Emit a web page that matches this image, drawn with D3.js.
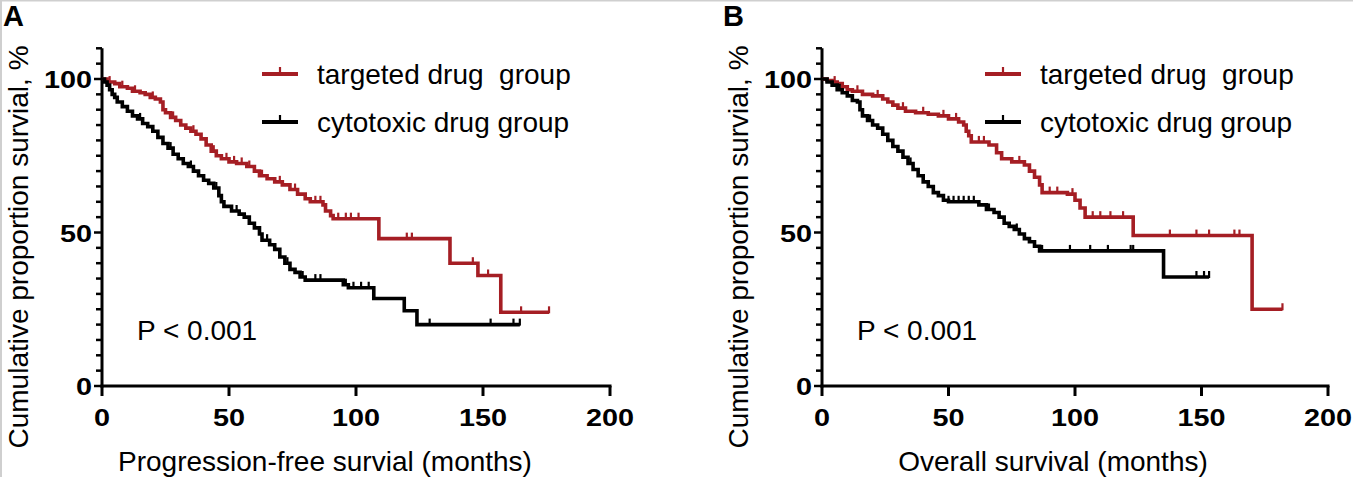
<!DOCTYPE html>
<html><head><meta charset="utf-8">
<script src="https://cdn.jsdelivr.net/npm/d3@7"></script>
<style>
html,body{margin:0;padding:0;background:#fff;}
svg text{font-family:"Liberation Sans",Arial,sans-serif;}
</style></head>
<body><svg id="chart" width="1353" height="477"></svg>
<script>
// ---------- data ----------
const xTicks = [0, 50, 100, 150, 200];
const yTicks = [0, 50, 100];
const seriesNames = ["targeted drug  group", "cytotoxic drug group"];
const panelTitles = ["A", "B"];
const xTitles = ["Progression-free survial (months)", "Overall survival (months)"];
const yTitle = "Cumulative proportion survial, %";
const pText = "P < 0.001";

// Panel A (PFS) – targeted: [month, survival %]
const pfsTargeted = [[0,100],[2,99],[5,98.5],[7,97.5],[10,97],[12,96],[15,95.5],[17,95],[19,94],[21,93.5],[23,92.5],[24,90],[25,89],[27,87.5],[29,86.5],[31,85],[33,84],[35,83],[37,82],[39,80.5],[41,78.5],[43,76.5],[45,75],[47,74],[50,73],[53,72.5],[57,71.5],[60,70],[62,68.5],[65,67.5],[68,66.5],[71,65.5],[74,64],[77,62.5],[80,61],[82,60],[87,59],[88,57],[90,55.5],[91,54.5],[109,48],[137,40],[148,36],[157,24],[176,24]];
const pfsTargetedCens = [3,8,13,20,28,36,44,49,52,55,58,63,70,76,84,86,93,96,98,101,120,122,146,152,165,176];
const pfsCytotoxic = [[0,100],[1,99],[2,98],[3,96.5],[4,95],[5,94],[6,92.5],[8,91],[10,89.5],[12,88],[14,87],[16,85.5],[18,84.5],[20,83],[22,81],[24,79],[26,77.5],[28,75.5],[30,74],[32,72.5],[34,71.5],[36,70],[38,68.5],[40,67],[42,66],[44,64.5],[46,62],[47,60],[48,58.5],[51,57],[54,56],[56,55],[58,53],[60,51.5],[62,49.5],[63,47.5],[66,46],[68,44.5],[70,42],[72,40],[74,38],[76,37],[78,35.5],[80,34.5],[95,33],[97,32],[107,28.5],[119,24.5],[124,20],[164.5,20]];
const pfsCytotoxicCens = [6,15,27,35,45,53,65,73,79,84,86,96,99,102,105,129,153,162,164.5];

// Panel B (OS)
const osTargeted = [[0,100],[2,99.5],[4,99],[6,98.5],[8,97.5],[10,96.5],[12,96],[16,95],[20,94.5],[24,93.5],[26,92.5],[28,91.5],[30,90.5],[33,89.5],[37,89],[42,88.5],[46,88],[50,87],[54,86],[56,85],[57,83],[58,81.5],[59,79.5],[66,78.5],[69,76],[71,74],[75,73],[80,72],[82,70],[84,68],[86,65.5],[87,63],[97,62.5],[100,60.5],[102,58],[104,55],[123,49],[170,25],[182,25]];
const osTargetedCens = [5,14,22,32,40,48,53,62,64,78,90,93,99,107,110,114,119,137.5,148,153,163,165,182];
const osCytotoxic = [[0,100],[2,99],[4,98],[6,96.5],[8,95.5],[10,94.5],[12,93],[14,92.5],[15,90],[16,88],[18,86.5],[20,85],[22,84],[24,82],[26,80],[28,78],[30,76.5],[32,74.5],[34,72.5],[36,70.5],[38,68.5],[40,66.5],[42,65],[44,63],[46,62],[48,60.5],[50,60],[62,59],[65,57.5],[68,56.5],[70,55],[72,53],[74,52],[76,51],[78,49.5],[80,48],[82,47],[84,45.5],[86,44],[135,35.5],[153,35.5]];
const osCytotoxicCens = [7,19,35,50,52,54,56,58,60,66,77,87,98,106,113,122,123,148,151,153];

const colors = ["#a51e24", "#000000"];

// ---------- drawing ----------
const svg = d3.select("#chart");
svg.append("line").attr("x1",0).attr("x2",1353).attr("y1",0.5).attr("y2",0.5).attr("stroke","#cfcfcf").attr("stroke-width",2);
svg.append("line").attr("x1",1).attr("x2",1).attr("y1",0).attr("y2",477).attr("stroke","#cfcfcf").attr("stroke-width",2);

function stepAt(data, t){
  let v = data[0][1];
  for (const d of data){ if (d[0] <= t) v = d[1]; else break; }
  return v;
}

const SX = 1.2; // horizontal stretch of bold tick labels

function panel(opt){
  const g = svg.append("g");
  const x = d3.scaleLinear().domain([0,200]).range([opt.x0, opt.x1]);
  const y = d3.scaleLinear().domain([0,100]).range([386, 79]);
  const yTop = y(110);

  // y axis
  const yMinor = d3.range(0, 111, 5);
  g.append("line").attr("x1",opt.x0).attr("x2",opt.x0).attr("y1",yTop).attr("y2",y(0)+1.5)
    .attr("stroke","#000").attr("stroke-width",3);
  g.selectAll(".ymin").data(yMinor).join("line")
    .attr("x1",opt.x0).attr("x2",d=> opt.x0 - (yTicks.includes(d)?8:6))
    .attr("y1",d=>y(d)).attr("y2",d=>y(d)).attr("stroke","#000").attr("stroke-width",2.5);
  g.selectAll(".ylab").data(yTicks).join("text")
    .attr("transform",d=>`translate(${opt.x0-10},${y(d)+9}) scale(${SX},1)`)
    .attr("text-anchor","end")
    .attr("font-size",24).attr("font-weight","bold").text(d=>d);

  // x axis
  g.append("line").attr("x1",opt.x0-1.5).attr("x2",x(200)+1.5).attr("y1",y(0)).attr("y2",y(0))
    .attr("stroke","#000").attr("stroke-width",3);
  g.selectAll(".xt").data(xTicks).join("line")
    .attr("x1",d=>x(d)).attr("x2",d=>x(d)).attr("y1",y(0)).attr("y2",y(0)+10)
    .attr("stroke","#000").attr("stroke-width",3);
  g.selectAll(".xlab").data(xTicks).join("text")
    .attr("transform",d=>`translate(${x(d)},426) scale(${SX},1)`)
    .attr("text-anchor","middle")
    .attr("font-size",24).attr("font-weight","bold").text(d=>d);

  // titles
  g.append("text").attr("x",opt.xTitleX).attr("y",471).attr("text-anchor","middle")
    .attr("font-size",28).text(opt.xTitle);
  g.append("text").attr("transform",`translate(${opt.x0-74},247) rotate(-90)`)
    .attr("text-anchor","middle").attr("font-size",28).text(yTitle);
  g.append("text").attr("x",opt.x0-99).attr("y",26).attr("font-size",29)
    .attr("font-weight","bold").text(opt.letter);

  // curves
  const line = d3.line().x(d=>x(d[0])).y(d=>y(d[1])).curve(d3.curveStepAfter);
  opt.series.forEach((s,i)=>{
    g.append("path").datum(s.data).attr("d",line).attr("fill","none")
      .attr("stroke",colors[i]).attr("stroke-width",3.6).attr("stroke-linejoin","miter");
    g.selectAll(null).data(s.cens).join("line")
      .attr("x1",d=>x(d)).attr("x2",d=>x(d))
      .attr("y1",d=>y(stepAt(s.data,d))+1).attr("y2",d=>y(stepAt(s.data,d))-6)
      .attr("stroke",colors[i]).attr("stroke-width",2.2);
  });

  // legend
  seriesNames.forEach((n,i)=>{
    const ly = 74 + i*48;
    g.append("line").attr("x1",opt.legX).attr("x2",opt.legX+36).attr("y1",ly).attr("y2",ly)
      .attr("stroke",colors[i]).attr("stroke-width",4);
    g.append("line").attr("x1",opt.legX+18).attr("x2",opt.legX+18).attr("y1",ly).attr("y2",ly-7)
      .attr("stroke",colors[i]).attr("stroke-width",2.2);
    g.append("text").attr("x",opt.legX+55).attr("y",ly+10).attr("font-size",28)
      .style("white-space","pre").text(n);
  });

  g.append("text").attr("x",opt.x0+35).attr("y",340).attr("font-size",28).text(pText);
}

panel({x0:102, x1:610, letter:panelTitles[0], xTitle:xTitles[0], xTitleX:325, legX:262,
  series:[{data:pfsTargeted,cens:pfsTargetedCens},{data:pfsCytotoxic,cens:pfsCytotoxicCens}]});
panel({x0:822, x1:1328, letter:panelTitles[1], xTitle:xTitles[1], xTitleX:1053, legX:985,
  series:[{data:osTargeted,cens:osTargetedCens},{data:osCytotoxic,cens:osCytotoxicCens}]});
</script></body></html>
